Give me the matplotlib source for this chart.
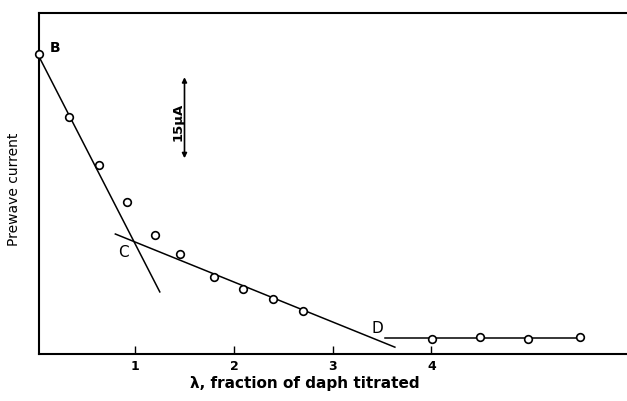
import numpy as np
import matplotlib.pyplot as plt

# titration points (lambda, prewave current in uA, arbitrary zero)
lam = [0.03, 0.33, 0.63, 0.92, 1.20, 1.45, 1.80, 2.09, 2.40, 2.70,
       4.01, 4.49, 4.98, 5.50]
current = [57.0, 45.0, 35.9, 28.9, 22.6, 19.0, 14.6, 12.4, 10.5, 8.2,
           2.9, 3.2, 2.9, 3.2]

# fitted straight segments
bc_x = [0.03, 1.25]
bc_y = [56.4, 11.8]
cd_x = [0.80, 3.63]
cd_y = [22.8, 1.3]
d_x = [3.53, 5.54]
d_y = [3.0, 3.0]

xticks = [1, 2, 3, 4]

fig = plt.figure(figsize=(6.27, 4.01), dpi=100)
ax = fig.add_axes([0.0622, 0.1172, 0.9378, 0.8504])

lw = 1.1
ax.plot(bc_x, bc_y, color='black', lw=lw)
ax.plot(cd_x, cd_y, color='black', lw=lw)
ax.plot(d_x, d_y, color='black', lw=lw)
ax.plot(lam, current, 'o', ms=5.5, mfc='white', mec='black', mew=1.2,
        zorder=3, clip_on=False)

# point labels
ax.text(0.19, 58.1, 'B', fontsize=10, fontweight='bold', ha='center', va='center')
ax.text(0.88, 19.2, 'C', fontsize=11, ha='center', va='center')
ax.text(3.45, 4.9, 'D', fontsize=11, ha='center', va='center')

# 15 uA scale bar
ax.annotate('', xy=(1.50, 52.6), xytext=(1.50, 37.2),
            arrowprops=dict(arrowstyle='<|-|>', color='black', lw=1.2,
                            mutation_scale=7, shrinkA=0, shrinkB=0))
ax.text(1.43, 44.1, '15μA', rotation=90, fontsize=9.5, fontweight='bold',
        ha='center', va='center')

ax.set_xlim(0.027, 5.98)
ax.set_ylim(0, 64.8)
ax.set_xticks(xticks)
ax.set_xticklabels([str(t) for t in xticks], fontsize=9, fontweight='bold')
ax.set_yticks([])
ax.tick_params(axis='x', direction='in', length=6, width=1, pad=4)

for side in ['left', 'bottom', 'top']:
    ax.spines[side].set_linewidth(1.5)
ax.spines['right'].set_visible(False)

ax.set_xlabel('λ, fraction of daph titrated', fontsize=11, fontweight='bold')
ax.xaxis.set_label_coords(0.452, -0.065)
ax.set_ylabel('Prewave current', fontsize=10)
ax.yaxis.set_label_coords(-0.03, 0.484)

plt.savefig('out.png', dpi=100)
